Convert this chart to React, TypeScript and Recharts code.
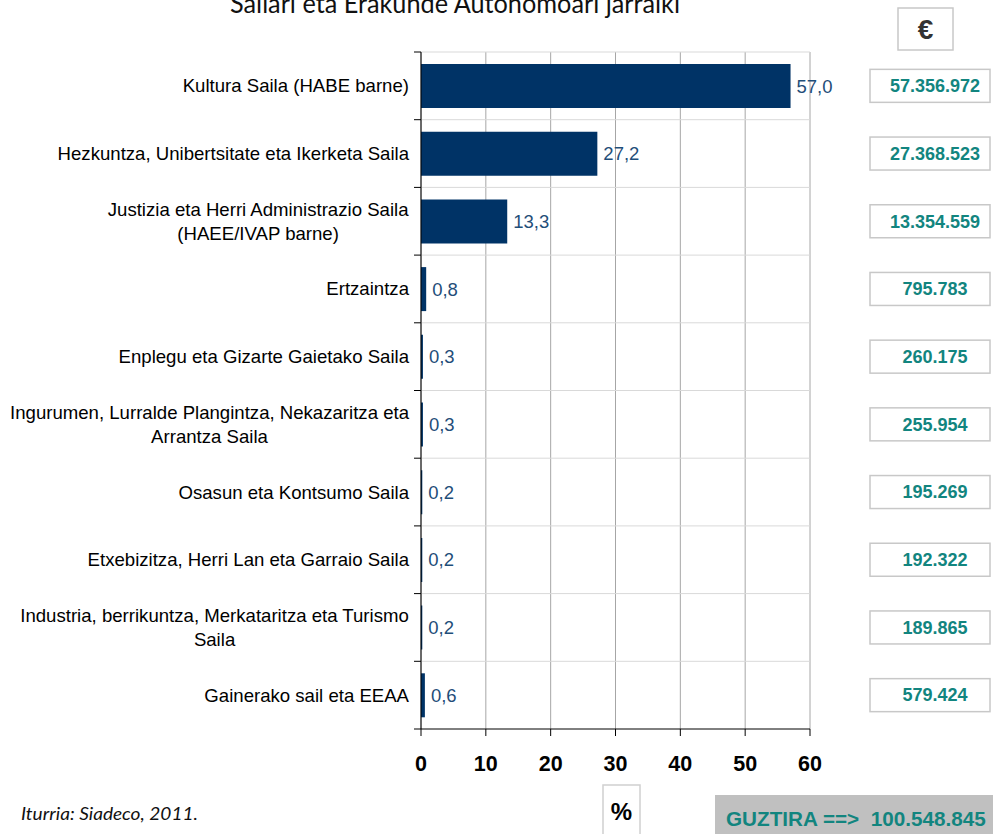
import React from "react";
import {
  BarChart,
  Bar,
  XAxis,
  YAxis,
  CartesianGrid,
  LabelList,
} from "recharts";

const categories = [
  "Kultura Saila (HABE barne)",
  "Hezkuntza, Unibertsitate eta Ikerketa Saila",
  "Justizia eta Herri Administrazio Saila\n(HAEE/IVAP barne)",
  "Ertzaintza",
  "Enplegu eta Gizarte Gaietako Saila",
  "Ingurumen, Lurralde Plangintza, Nekazaritza eta\nArrantza Saila",
  "Osasun eta Kontsumo Saila",
  "Etxebizitza, Herri Lan eta Garraio Saila",
  "Industria, berrikuntza, Merkataritza eta Turismo\nSaila",
  "Gainerako sail eta EEAA",
];

const percents = [57.0, 27.2, 13.3, 0.8, 0.3, 0.3, 0.2, 0.2, 0.2, 0.6];

const euros = [
  "57.356.972",
  "27.368.523",
  "13.354.559",
  "795.783",
  "260.175",
  "255.954",
  "195.269",
  "192.322",
  "189.865",
  "579.424",
];

const xTicks = [0, 10, 20, 30, 40, 50, 60];

const title = "Sailari eta Erakunde Autonomoari jarraiki";
const totalLabel = "GUZTIRA ==>  100.548.845";
const source = "Iturria: Siadeco, 2011.";

const data = categories.map((name, i) => ({
  name,
  pct: percents[i],
  euro: euros[i],
}));

const W = 993;
const H = 834;
const TOP = 52;
const BOTTOM = 105;
const BAND = (H - TOP - BOTTOM) / categories.length;
const FONT = "'Liberation Sans', Arial, sans-serif";
const LABEL_SIZE = 18.6;

let measureCtx: CanvasRenderingContext2D | null = null;
function textWidth(s: string) {
  if (!measureCtx) {
    measureCtx = document.createElement("canvas").getContext("2d");
  }
  if (!measureCtx) return s.length * 9;
  measureCtx.font = `${LABEL_SIZE}px ${FONT}`;
  return measureCtx.measureText(s).width;
}

// category names, right aligned to the axis, extra lines centred under the first
function CategoryTick(props: any) {
  const { x, y, payload, index } = props;
  const lines = String(payload.value).split("\n");
  const axisX = x + 12;
  const w = Math.max(...lines.map(textWidth));
  const cx = x - w / 2;
  const lh = 24;
  const startY = y - ((lines.length - 1) * lh) / 2;
  return (
    <g>
      <line x1={axisX - 7} x2={axisX} y1={y - BAND / 2} y2={y - BAND / 2} stroke="#000" />
      {index === categories.length - 1 && (
        <line x1={axisX - 7} x2={axisX} y1={y + BAND / 2} y2={y + BAND / 2} stroke="#000" />
      )}
      <text textAnchor="middle" fontSize={LABEL_SIZE} fontFamily={FONT} fill="#000">
        {lines.map((l, i) => (
          <tspan key={i} x={cx} y={startY + i * lh} dy="0.35em">
            {l}
          </tspan>
        ))}
      </text>
    </g>
  );
}

function EuroTick(props: any) {
  const { y, payload } = props;
  return (
    <g>
      <rect
        x={870}
        y={y - 16.5}
        width={120}
        height={33}
        fill="#fff"
        stroke="#c8c8c8"
        strokeWidth={1.5}
      />
      <text
        x={935}
        y={y}
        dy="0.35em"
        textAnchor="middle"
        fontSize={18}
        fontWeight="bold"
        fontFamily={FONT}
        fill="#12857f"
      >
        {payload.value}
      </text>
    </g>
  );
}

const fmt = (v: any) => Number(v).toFixed(1).replace(".", ",");

export default function App() {
  return (
    <div style={{ position: "absolute", left: 0, top: 0, width: W, height: H, background: "#fff" }}>
      <BarChart
        width={W}
        height={H}
        data={data}
        layout="vertical"
        margin={{ top: TOP, right: 0, left: 0, bottom: 45 }}
      >
        <CartesianGrid horizontal={false} stroke="#a6a6a6" />
        <CartesianGrid
          vertical={false}
          stroke="#d9d9d9"
          horizontalCoordinatesGenerator={({ offset }: any) =>
            categories.map((_, k) => offset.top + (k * offset.height) / categories.length)
          }
        />
        <XAxis
          type="number"
          domain={[0, 60]}
          ticks={xTicks}
          height={60}
          axisLine={{ stroke: "#000" }}
          tickLine={{ stroke: "#000" }}
          tickSize={7}
          tickMargin={20}
          tick={{
            fill: "#000",
            fontSize: 21.5,
            fontWeight: "bold",
            fontFamily: FONT,
          }}
        />
        <YAxis
          yAxisId="left"
          type="category"
          dataKey="name"
          width={421}
          axisLine={{ stroke: "#000" }}
          tickLine={false}
          tickSize={6}
          tickMargin={6}
          interval={0}
          tick={<CategoryTick />}
        />
        <YAxis
          yAxisId="right"
          orientation="right"
          type="category"
          dataKey="euro"
          width={183}
          axisLine={false}
          tickLine={false}
          interval={0}
          tick={<EuroTick />}
        />
        <Bar yAxisId="left" dataKey="pct" fill="#003366" barSize={44} isAnimationActive={false}>
          <LabelList
            dataKey="pct"
            position="right"
            offset={6}
            formatter={fmt}
            fill="#1f4e79"
            fontSize={18.5}
            fontFamily={FONT}
          />
        </Bar>
      </BarChart>
      <svg
        width={W}
        height={H}
        style={{ position: "absolute", left: 0, top: 0, pointerEvents: "none" }}
      >
        <text
          x={230}
          y={13}
          fontSize={26}
          fontFamily="Lato, 'Open Sans', sans-serif"
          fill="#111"
          textLength={450}
          lengthAdjust="spacingAndGlyphs"
        >
          {title}
        </text>
        <rect x={898} y={8} width={55} height={42} fill="#fff" stroke="#c8c8c8" strokeWidth={1.5} />
        <text
          x={925.5}
          y={29}
          dy="0.35em"
          textAnchor="middle"
          fontSize={28}
          fontWeight="bold"
          fontFamily={FONT}
          fill="#333"
        >
          €
        </text>
        <rect x={603} y={785} width={37} height={60} fill="#fff" stroke="#d0d0d0" strokeWidth={1.5} />
        <text
          x={621.5}
          y={812}
          dy="0.35em"
          textAnchor="middle"
          fontSize={24}
          fontWeight="bold"
          fontFamily={FONT}
          fill="#000"
        >
          %
        </text>
        <rect x={715} y={795} width={278} height={39} fill="#c0c0c0" />
        <text
          x={726}
          y={819}
          dy="0.35em"
          fontSize={20.7}
          fontWeight="bold"
          fontFamily={FONT}
          fill="#12857f"
          style={{ whiteSpace: "pre" }}
        >
          {totalLabel}
        </text>
        <text
          x={21}
          y={820}
          fontSize={17}
          fontStyle="italic"
          fontFamily="Lato, 'Open Sans', sans-serif"
          fill="#111"
          textLength={177}
          lengthAdjust="spacingAndGlyphs"
        >
          {source}
        </text>
      </svg>
    </div>
  );
}
